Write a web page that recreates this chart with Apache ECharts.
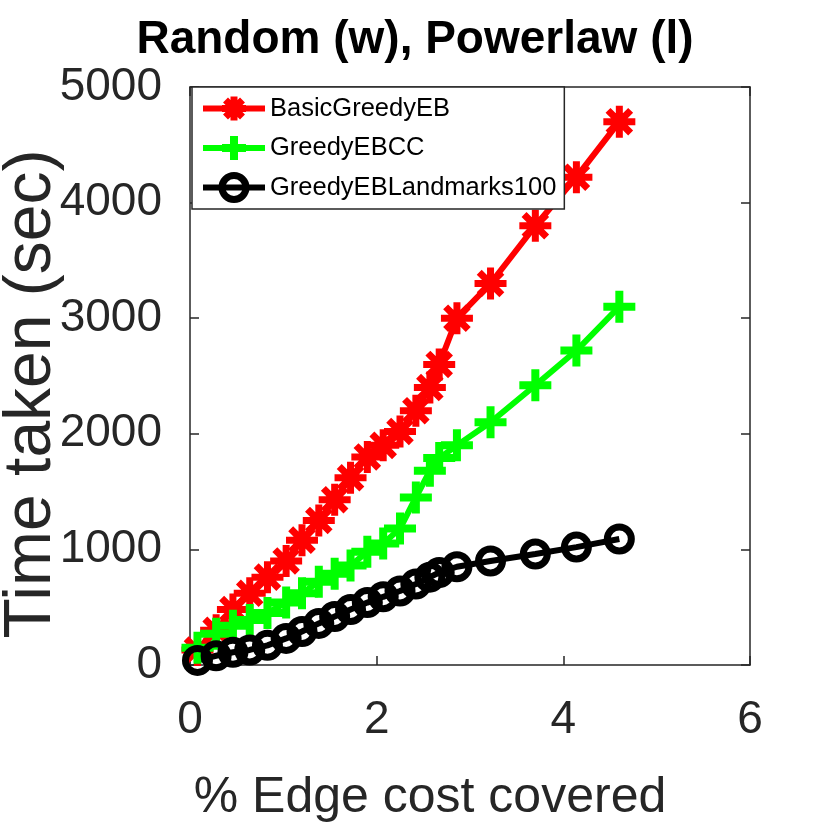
<!DOCTYPE html>
<html>
<head>
<meta charset="utf-8">
<script src="https://cdn.jsdelivr.net/npm/echarts@6/dist/echarts.min.js"></script>
<style>
  html, body { margin: 0; padding: 0; background: #fff; }
  #main { width: 830px; height: 830px; }
</style>
</head>
<body>
<div id="main"></div>
<script>
// data
var coverage = [0.08, 0.28, 0.46, 0.64, 0.83, 1.03, 1.2, 1.38, 1.55, 1.72, 1.9, 2.07, 2.25, 2.42, 2.57, 2.67, 2.86, 3.22, 3.7, 4.14, 4.6];
var basicGreedyEB = [130, 300, 480, 620, 760, 900, 1080, 1250, 1430, 1620, 1800, 1900, 2020, 2200, 2400, 2600, 3000, 3300, 3800, 4220, 4700];
var greedyEBCC = [150, 270, 340, 390, 450, 540, 620, 720, 790, 860, 980, 1050, 1180, 1450, 1680, 1790, 1900, 2100, 2420, 2720, 3100];
var landmarks100 = [40, 80, 110, 130, 170, 230, 290, 360, 420, 480, 540, 590, 640, 700, 760, 800, 850, 900, 960, 1020, 1090];
var seriesNames = ['BasicGreedyEB', 'GreedyEBCC', 'GreedyEBLandmarks100'];
var xTicks = [0, 2, 4, 6];
var yTicks = [0, 1000, 2000, 3000, 4000, 5000];

function pairs(ys) {
    return coverage.map(function (x, i) { return [x, ys[i]]; });
}

var font = "'Liberation Sans', Arial, Helvetica, sans-serif";
var axisColor = '#262626';
var asterisk = 'path://M0,-10L0,10M-10,0L10,0M-7.07,-7.07L7.07,7.07M-7.07,7.07L7.07,-7.07';
var plus = 'path://M0,-10L0,10M-10,0L10,0';
var colors = ['#ff0000', '#00ff00', '#000000'];

var chart = echarts.init(document.getElementById('main'));

var option = {
    animation: false,
    backgroundColor: '#fff',
    title: {
        text: 'Random (w), Powerlaw (l)',
        left: 'center',
        top: 12,
        textStyle: { fontFamily: font, fontWeight: 'bold', fontSize: 46, color: '#000' }
    },
    legend: {
        orient: 'vertical',
        left: 192,
        top: 87,
        data: seriesNames.map(function (n, i) {
            return {
                name: n,
                lineStyle: { width: 6, color: colors[i] },
                itemStyle: { borderWidth: i === 1 ? 8 : 7, borderColor: colors[i] }
            };
        }),
        backgroundColor: '#fff',
        borderColor: axisColor,
        borderWidth: 1.5,
        borderRadius: 0,
        padding: [6, 8, 6, 8],
        itemWidth: 62,
        itemHeight: 30,
        itemGap: 8,
        itemTextGap: 5,
        textStyle: { fontFamily: font, fontSize: 25.5, color: '#000', lineHeight: 30 }
    },
    grid: { left: 190, top: 87, width: 560, height: 578, containLabel: false, outerBoundsMode: 'none' },
    xAxis: [{
        type: 'value',
        min: 0, max: 6, interval: 2,
        name: '% Edge cost covered',
        nameLocation: 'middle',
        nameGap: 108,
        nameMoveOverlap: false,
        nameTextStyle: { fontFamily: font, fontSize: 50, color: '#262626', padding: [0, 80, 0, 0] },
        axisLine: { show: true, onZero: false, lineStyle: { color: axisColor, width: 1.5 } },
        axisTick: { show: true, inside: true, length: 9, lineStyle: { color: axisColor, width: 1.5 } },
        axisLabel: {
            fontFamily: font, fontSize: 46, color: '#262626', margin: 32,
            formatter: function (v) { return xTicks.indexOf(v) >= 0 ? String(v) : ''; }
        },
        splitLine: { show: false }
    }, {
        type: 'value',
        position: 'top',
        min: 0, max: 6, interval: 2,
        axisLine: { show: true, onZero: false, lineStyle: { color: axisColor, width: 1.5 } },
        axisTick: { show: true, inside: true, length: 9, lineStyle: { color: axisColor, width: 1.5 } },
        axisLabel: { show: false },
        splitLine: { show: false }
    }],
    yAxis: [{
        type: 'value',
        min: 0, max: 5000, interval: 1000,
        name: 'Time taken (sec)',
        nameLocation: 'middle',
        nameGap: 125,
        nameMoveOverlap: false,
        nameTextStyle: { fontFamily: font, fontSize: 66, color: '#262626', padding: [0, 36, 0, 0] },
        axisLine: { show: true, onZero: false, lineStyle: { color: axisColor, width: 1.5 } },
        axisTick: { show: true, inside: true, length: 9, lineStyle: { color: axisColor, width: 1.5 } },
        axisLabel: {
            fontFamily: font, fontSize: 46, color: '#262626', margin: 28,
            formatter: function (v) { return yTicks.indexOf(v) >= 0 ? String(v) : ''; }
        },
        splitLine: { show: false }
    }, {
        type: 'value',
        position: 'right',
        min: 0, max: 5000, interval: 1000,
        axisLine: { show: true, onZero: false, lineStyle: { color: axisColor, width: 1.5 } },
        axisTick: { show: true, inside: true, length: 9, lineStyle: { color: axisColor, width: 1.5 } },
        axisLabel: { show: false },
        splitLine: { show: false }
    }],
    series: [{
        name: seriesNames[0],
        type: 'line',
        data: pairs(basicGreedyEB),
        symbol: asterisk,
        symbolSize: 32,
        lineStyle: { color: colors[0], width: 6 },
        itemStyle: { color: colors[0], borderColor: colors[0], borderWidth: 7 }
    }, {
        name: seriesNames[1],
        type: 'line',
        data: pairs(greedyEBCC),
        symbol: plus,
        symbolSize: 32,
        lineStyle: { color: colors[1], width: 6 },
        itemStyle: { color: colors[1], borderColor: colors[1], borderWidth: 8 }
    }, {
        name: seriesNames[2],
        type: 'line',
        data: pairs(landmarks100),
        symbol: 'circle',
        symbolSize: 24,
        lineStyle: { color: colors[2], width: 6 },
        itemStyle: { color: 'rgba(0,0,0,0)', borderColor: colors[2], borderWidth: 7 }
    }]
};

chart.setOption(option);
</script>
</body>
</html>
